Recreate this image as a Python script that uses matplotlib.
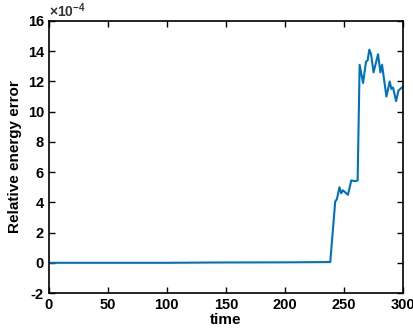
import numpy as np
import matplotlib.pyplot as plt

plt.rcParams['font.family'] = ['Liberation Sans', 'DejaVu Sans']
plt.rcParams['font.weight'] = 'bold'
plt.rcParams['axes.unicode_minus'] = False
plt.rcParams['mathtext.fontset'] = 'custom'
plt.rcParams['mathtext.rm'] = 'Liberation Sans'

# time samples and relative energy error (in units of 1e-4)
t = [0, 60, 100, 140, 200, 238.5, 242.7, 244.1, 246.3, 247.8, 249.2, 253.5,
     256.3, 259.7, 261.7, 263.4, 266.3, 268.8, 270.2, 271.6, 273.1, 275.2,
     279.0, 281.0, 282.4, 286.1, 288.9, 290.3, 291.7, 294.3, 296.3, 299.3]
err = [0.0, 0.0, 0.0, 0.02, 0.03, 0.05, 4.06, 4.2, 5.0, 4.6, 4.8, 4.5,
       5.45, 5.4, 5.45, 13.1, 11.9, 13.3, 13.4, 14.1, 13.8, 12.6,
       13.8, 12.6, 13.1, 11.0, 12.0, 11.5, 11.6, 10.7, 11.4, 11.6]
scale = 1e-4

t = np.array(t)
err = np.array(err) * scale

fig = plt.figure(figsize=(4.14, 3.33), dpi=100)
ax = fig.add_axes([0.118, 0.12, 0.855, 0.817])
ax.plot(t, err / scale, color='#0072BD', lw=1.5, solid_joinstyle='round')

ax.set_xlim(0, 300)
ax.set_ylim(-2, 16)
ax.set_xticks(np.arange(0, 301, 50))
ax.set_yticks(np.arange(-2, 17, 2))
ax.tick_params(direction='in', top=True, right=True, length=4, width=1,
               labelsize=10.5)
for s in ax.spines.values():
    s.set_linewidth(1.2)
ax.set_xlabel('time', fontsize=11, fontweight='bold', labelpad=1)
ax.set_ylabel('Relative energy error', fontsize=11, fontweight='bold', labelpad=4)
ax.text(0.0, 1.003, r'$\times\mathrm{10^{-4}}$', transform=ax.transAxes,
        fontsize=10, ha='left', va='bottom', color='#333333')

fig.savefig('out.png', dpi=100)
